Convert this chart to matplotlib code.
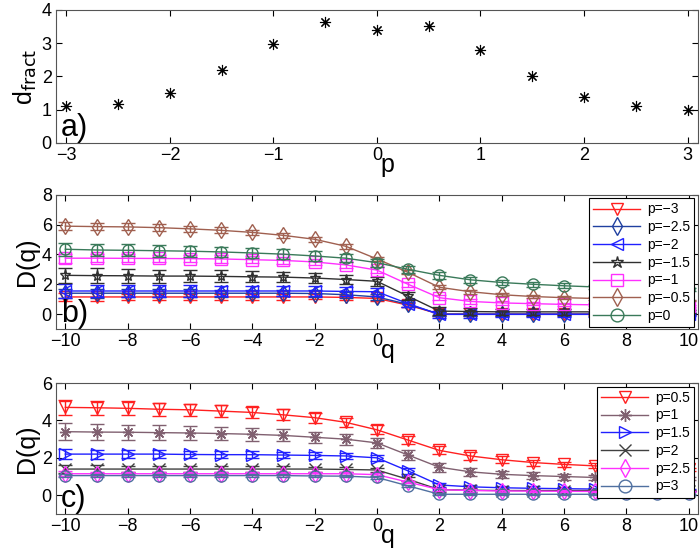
import matplotlib
matplotlib.use("Agg")
import matplotlib.pyplot as plt
import numpy as np

plt.rcParams["font.family"] = ["Liberation Sans", "DejaVu Sans"]

# --- panel a: fractal dimension vs p ---------------------------------------
p_vals = [-3, -2.5, -2, -1.5, -1, -0.5, 0, 0.5, 1, 1.5, 2, 2.5, 3]
d_fract = [1.12, 1.18, 1.5, 2.2, 2.98, 3.65, 3.4, 3.52, 2.8, 2.0, 1.37, 1.1, 0.98]

# --- panels b, c: D(q) curves ----------------------------------------------
q = list(range(-10, 11))

b_labels = ["p=\u22123", "p=\u22122.5", "p=\u22122", "p=\u22121.5", "p=\u22121", "p=\u22120.5", "p=0"]
b_values = [
    [1.15, 1.15, 1.15, 1.15, 1.15, 1.15, 1.15, 1.15, 1.15, 1.12, 1.05, 0.6, 0.0, 0.0, 0.0, 0.0, 0.0, 0.0, 0.0, 0.0, 0.0],
    [1.4, 1.4, 1.4, 1.4, 1.4, 1.4, 1.4, 1.4, 1.38, 1.3, 1.15, 0.65, 0.0, 0.0, 0.0, 0.0, 0.0, 0.0, 0.0, 0.0, 0.0],
    [1.55, 1.55, 1.55, 1.55, 1.55, 1.55, 1.55, 1.55, 1.55, 1.52, 1.5, 0.7, -0.02, -0.02, -0.02, -0.02, -0.02, -0.02, -0.02, -0.02, -0.02],
    [2.6, 2.58, 2.57, 2.55, 2.55, 2.53, 2.5, 2.48, 2.42, 2.32, 2.2, 1.2, 0.2, 0.17, 0.15, 0.15, 0.15, 0.15, 0.15, 0.15, 0.15],
    [3.75, 3.75, 3.74, 3.73, 3.72, 3.7, 3.65, 3.6, 3.5, 3.3, 2.95, 2.0, 1.1, 0.85, 0.75, 0.7, 0.65, 0.62, 0.6, 0.57, 0.55],
    [5.9, 5.87, 5.85, 5.8, 5.72, 5.62, 5.48, 5.28, 5.02, 4.55, 3.7, 2.8, 1.8, 1.5, 1.3, 1.18, 1.1, 1.05, 1.0, 0.95, 0.9],
    [4.35, 4.3, 4.28, 4.25, 4.22, 4.17, 4.1, 4.02, 3.9, 3.75, 3.45, 3.0, 2.6, 2.3, 2.12, 2.0, 1.9, 1.82, 1.76, 1.7, 1.65],
]
b_errors = [0.25, 0.3, 0.45, 0.5, 0.3, 0.25, 0.45]
b_colors = ["#ff2020", "#2040a0", "#2020ff", "#303030", "#ff30ff", "#a06050", "#3a7a5a"]
b_markers = ["v", "d", "<", "*", "s", "d", "o"]

c_labels = ["p=0.5", "p=1", "p=1.5", "p=2", "p=2.5", "p=3"]
c_values = [
    [4.7, 4.68, 4.65, 4.6, 4.57, 4.5, 4.43, 4.3, 4.15, 3.9, 3.5, 2.95, 2.4, 2.1, 1.9, 1.75, 1.65, 1.57, 1.5, 1.45, 1.4],
    [3.4, 3.38, 3.37, 3.35, 3.33, 3.3, 3.26, 3.2, 3.1, 3.0, 2.8, 2.15, 1.5, 1.25, 1.12, 1.05, 1.0, 0.95, 0.92, 0.9, 0.88],
    [2.2, 2.2, 2.2, 2.2, 2.18, 2.17, 2.17, 2.15, 2.13, 2.1, 2.0, 1.3, 0.55, 0.45, 0.4, 0.37, 0.35, 0.33, 0.32, 0.31, 0.3],
    [1.4, 1.4, 1.4, 1.4, 1.4, 1.4, 1.4, 1.4, 1.4, 1.38, 1.35, 0.85, 0.3, 0.27, 0.25, 0.25, 0.25, 0.25, 0.25, 0.25, 0.25],
    [1.15, 1.15, 1.15, 1.15, 1.15, 1.15, 1.15, 1.15, 1.15, 1.15, 1.1, 0.7, 0.3, 0.25, 0.23, 0.22, 0.21, 0.2, 0.2, 0.2, 0.2],
    [1.05, 1.05, 1.05, 1.05, 1.05, 1.05, 1.05, 1.05, 1.03, 1.02, 0.95, 0.5, 0.05, 0.05, 0.05, 0.05, 0.05, 0.05, 0.05, 0.05, 0.05],
]
c_errors = [0.4, 0.45, 0.25, 0.2, 0.12, 0.1]
c_colors = ["#ff2020", "#806070", "#2020ff", "#404040", "#ff30ff", "#5070a0"]
c_markers = ["v", (8, 2, 0), ">", "x", "d", "o"]


def style(ax, label):
    ax.tick_params(direction="in", top=True, right=True, labelsize=13, length=4, pad=3)
    for s in ax.spines.values():
        s.set_color("#555555")
    ax.text(0.008, 0.0, label, transform=ax.transAxes, fontsize=22,
            ha="left", va="bottom")


def curves(ax, values, errors, colors, markers, labels):
    for vals, err, col, mk, lab in zip(values, errors, colors, markers, labels):
        v = np.array(vals)
        # error bar shrinks towards large q
        e = err * np.clip((np.array(q) * -0.04 + 0.6), 0.15, 1.0)
        ax.errorbar(q, v, yerr=e, fmt="none", ecolor=col, capsize=5, elinewidth=1)
        ax.plot(q, v, color=col, marker=mk, mfc="none", mec=col, ms=8, lw=1, label=lab)
    leg = ax.legend(loc="upper right", fontsize=10, frameon=True, fancybox=False,
                    borderaxespad=0.25, handlelength=3.4, handletextpad=0.5,
                    labelspacing=0.27, borderpad=0.3, framealpha=1, markerscale=1.15)
    leg.get_frame().set_edgecolor("black")
    leg.get_frame().set_linewidth(0.8)
    ax.set_xlim(-10.3, 10.3)
    ax.set_xticks(range(-10, 11, 2))
    ax.set_ylabel("D(q)", fontsize=18, labelpad=2)
    ax.set_xlabel("q", fontsize=18)
    ax.xaxis.set_label_coords(0.517, -0.075)


fig = plt.figure(figsize=(7.0, 5.52), dpi=100)
ax_a = fig.add_axes([0.08, 0.741, 0.917, 0.241])
ax_b = fig.add_axes([0.08, 0.404, 0.917, 0.243])
ax_c = fig.add_axes([0.08, 0.069, 0.917, 0.237])

ax_a.plot(p_vals, d_fract, ls="none", marker=(8, 2, 0), color="black", ms=8, mew=0.8)
ax_a.set_xlim(-3.1, 3.1)
ax_a.set_ylim(0, 4)
ax_a.set_xticks(range(-3, 4))
ax_a.set_yticks(range(0, 5))
ax_a.set_ylabel(r"d$_{\mathrm{fract}}$", fontsize=18, labelpad=2)
ax_a.set_xlabel("p", fontsize=18)
ax_a.xaxis.set_label_coords(0.517, -0.075)
style(ax_a, "a)")

curves(ax_b, b_values, b_errors, b_colors, b_markers, b_labels)
ax_b.set_ylim(-1, 8)
ax_b.set_yticks(range(0, 9, 2))
style(ax_b, "b)")

curves(ax_c, c_values, c_errors, c_colors, c_markers, c_labels)
ax_c.set_ylim(-1, 6)
ax_c.set_yticks(range(0, 7, 2))
style(ax_c, "c)")

fig.savefig("out.png", dpi=100, facecolor="white")
